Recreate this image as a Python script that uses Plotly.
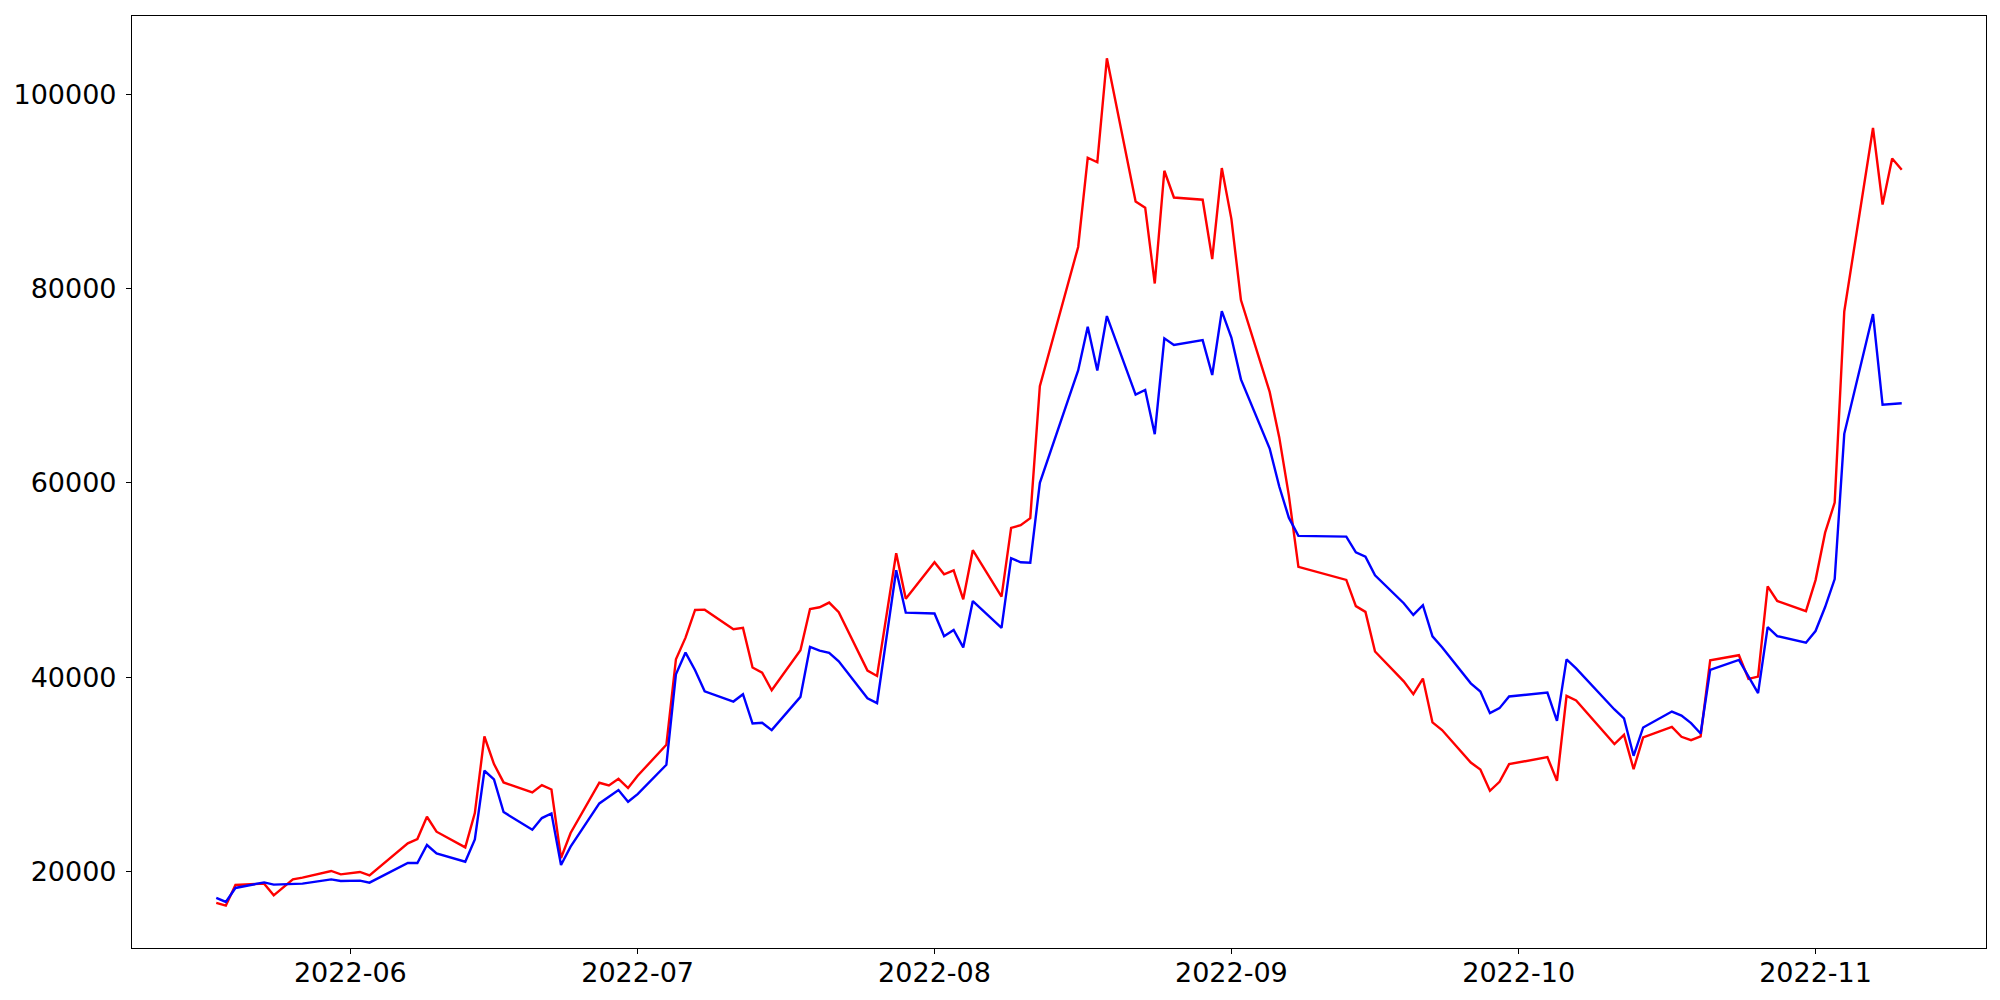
import plotly.graph_objects as go
import pandas as pd

dates = [
    "2022-05-18", "2022-05-19", "2022-05-20", "2022-05-23", "2022-05-24", "2022-05-25", "2022-05-26", "2022-05-27",
    "2022-05-30", "2022-05-31", "2022-06-02", "2022-06-03", "2022-06-07", "2022-06-08", "2022-06-09", "2022-06-10",
    "2022-06-13", "2022-06-14", "2022-06-15", "2022-06-16", "2022-06-17", "2022-06-20", "2022-06-21", "2022-06-22",
    "2022-06-23", "2022-06-24", "2022-06-27", "2022-06-28", "2022-06-29", "2022-06-30", "2022-07-01", "2022-07-04",
    "2022-07-05", "2022-07-06", "2022-07-07", "2022-07-08", "2022-07-11", "2022-07-12", "2022-07-13", "2022-07-14",
    "2022-07-15", "2022-07-18", "2022-07-19", "2022-07-20", "2022-07-21", "2022-07-22", "2022-07-25", "2022-07-26",
    "2022-07-27", "2022-07-28", "2022-07-29", "2022-08-01", "2022-08-02", "2022-08-03", "2022-08-04", "2022-08-05",
    "2022-08-08", "2022-08-09", "2022-08-10", "2022-08-11", "2022-08-12", "2022-08-16", "2022-08-17", "2022-08-18",
    "2022-08-19", "2022-08-22", "2022-08-23", "2022-08-24", "2022-08-25", "2022-08-26", "2022-08-29", "2022-08-30",
    "2022-08-31", "2022-09-01", "2022-09-02", "2022-09-05", "2022-09-06", "2022-09-07", "2022-09-08", "2022-09-13",
    "2022-09-14", "2022-09-15", "2022-09-16", "2022-09-19", "2022-09-20", "2022-09-21", "2022-09-22", "2022-09-23",
    "2022-09-26", "2022-09-27", "2022-09-28", "2022-09-29", "2022-09-30", "2022-10-04", "2022-10-05", "2022-10-06",
    "2022-10-07", "2022-10-11", "2022-10-12", "2022-10-13", "2022-10-14", "2022-10-17", "2022-10-18", "2022-10-19",
    "2022-10-20", "2022-10-21", "2022-10-24", "2022-10-25", "2022-10-26", "2022-10-27", "2022-10-28", "2022-10-31",
    "2022-11-01", "2022-11-02", "2022-11-03", "2022-11-04", "2022-11-07", "2022-11-08", "2022-11-09", "2022-11-10",
]

red_values = [
    16805, 16527, 18654, 18790, 17586, 18410, 19230, 19404,
    20092, 19743, 19990, 19640, 22930, 23380, 25671, 24130,
    22517, 26050, 33922, 31085, 29200, 28168, 28928, 28476,
    21428, 23996, 29164, 28887, 29575, 28620, 29884, 33069,
    41873, 44093, 46938, 46970, 44955, 45090, 41016, 40497,
    38685, 42797, 47042, 47213, 47700, 46712, 40702, 40147,
    46472, 52764, 48080, 51850, 50607, 51018, 48038, 53082,
    48316, 55374, 55651, 56381, 69963, 84274, 93448, 92986,
    103670, 88949, 88312, 80513, 92113, 89360, 89134, 83030,
    92391, 87161, 78808, 69366, 64684, 58722, 51370, 50030,
    47330, 46740, 42665, 39600, 38270, 39877, 35370, 34588,
    31250, 30531, 28340, 29265, 31079, 31798, 29370, 38100,
    37640, 33140, 34095, 30570, 33820, 34920, 33890, 33550,
    33925, 41770, 42285, 39850, 40080, 49370, 47863, 46815,
    50010, 54890, 57983, 77637, 96510, 88640, 93365, 92205,
]

blue_values = [
    17318, 16907, 18346, 18921, 18685, 18700, 18720, 18788,
    19230, 19065, 19100, 18890, 20914, 20914, 22764, 21900,
    21048, 23340, 30400, 29505, 26150, 24335, 25534, 26014,
    20709, 22589, 27039, 27726, 28411, 27213, 28000, 31014,
    40330, 42556, 40740, 38567, 37517, 38275, 35257, 35330,
    34576, 38000, 43137, 42762, 42525, 41658, 37857, 37353,
    44185, 51018, 46660, 46568, 44226, 44873, 43085, 47853,
    45099, 52260, 51839, 51798, 60007, 71566, 76066, 71566,
    77165, 69089, 69570, 65010, 74874, 74185, 74689, 71104,
    77668, 74955, 70652, 63540, 59636, 56430, 54560, 54480,
    52860, 52420, 50500, 47630, 46430, 47425, 44225, 43096,
    39390, 38549, 36323, 36837, 38036, 38447, 35534, 41850,
    40930, 36700, 35775, 31940, 34850, 36490, 36080, 35295,
    34230, 40775, 41800, 40120, 38385, 45180, 44247, 43568,
    44771, 47237, 50113, 65052, 77370, 68040, 68100, 68200,
]

assert len(dates) == len(red_values) == len(blue_values)

x = pd.to_datetime(dates)

fig = go.Figure()
fig.add_trace(go.Scatter(x=x, y=red_values, mode="lines",
                         line=dict(color="#ff0000", width=2.4), showlegend=False))
fig.add_trace(go.Scatter(x=x, y=blue_values, mode="lines",
                         line=dict(color="#0000ff", width=2.4), showlegend=False))

# matplotlib-like 5% margins
xmin, xmax = x.min(), x.max()
xpad = (xmax - xmin) * 0.05
allv = red_values + blue_values
vmin, vmax = min(allv), max(allv)
ypad = (vmax - vmin) * 0.05

font_family = "DejaVu Sans"
# page body has an 8px margin; figure sized so page fits the 2000x1000 window
fig.update_layout(
    width=1984, height=984,
    margin=dict(l=124, r=6, t=8, b=44, autoexpand=False),
    paper_bgcolor="white", plot_bgcolor="white",
    font=dict(family=font_family, size=27, color="black"),
    xaxis=dict(
        type="date",
        range=[xmin - xpad, xmax + xpad],
        tick0="2022-06-01", dtick="M1", tickformat="%Y-%m",
        showgrid=False, zeroline=False,
        showline=True, mirror=True, linecolor="black", linewidth=1.1,
        ticks="outside", ticklen=5, tickwidth=1.1, tickcolor="black",
        tickfont=dict(family=font_family, size=27, color="black"),
        ticklabelstandoff=-4,
        automargin=False,
    ),
    yaxis=dict(
        range=[vmin - ypad, vmax + ypad],
        tick0=0, dtick=20000, tickformat="d",
        showgrid=False, zeroline=False,
        showline=True, mirror=True, linecolor="black", linewidth=1.1,
        ticks="outside", ticklen=5, tickwidth=1.1, tickcolor="black",
        tickfont=dict(family=font_family, size=27, color="black"),
        ticklabelstandoff=4,
        automargin=False,
    ),
)

fig.write_html("out.html")
